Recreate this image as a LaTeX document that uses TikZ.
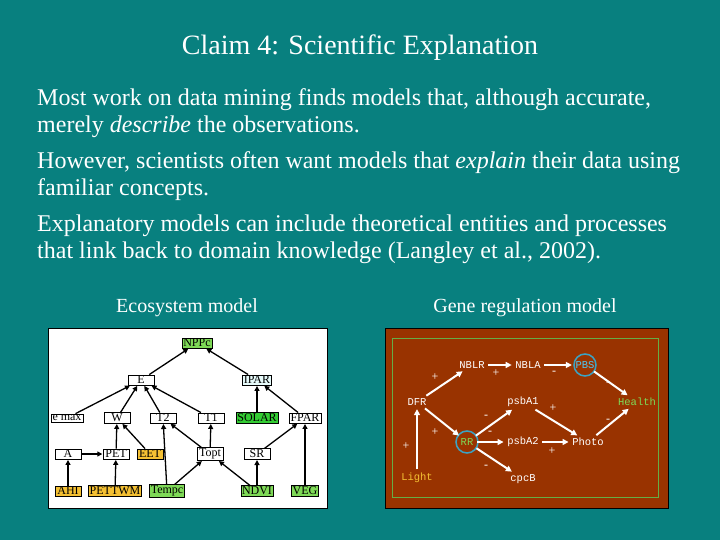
\documentclass[tikz,border=0pt]{standalone}
\usepackage{fontspec}
\setmainfont{Liberation Serif}
\setmonofont{Liberation Mono}
\usetikzlibrary{arrows.meta}
\definecolor{teal1}{HTML}{08807F}
\definecolor{brownbg}{HTML}{993300}
\definecolor{gbox}{HTML}{7ED957}
\definecolor{dgbox}{HTML}{33CC33}
\definecolor{obox}{HTML}{F4C033}
\definecolor{cbox}{HTML}{E6FAFA}
\definecolor{ringc}{HTML}{3BA3C4}
\begin{document}
\begin{tikzpicture}[x=1pt,y=-1pt,
 lb/.style={draw=black,fill=white,font=\fontsize{12}{13}\selectfont,inner sep=1.3pt,minimum width=26pt},
 ra/.style={-{Triangle[length=5pt,width=5pt]},line width=1.3pt,black,shorten >=0.5pt},
 rn/.style={white,font=\ttfamily\fontsize{10.5}{11}\selectfont,inner sep=1.5pt},
 wa/.style={-{Triangle[length=6pt,width=6pt]},line width=2pt,white,shorten >=2pt,shorten <=2pt},
 sg/.style={white,font=\fontsize{12}{12}\selectfont},
 para/.style={white,anchor=north west,align=left,inner sep=0pt,font=\fontsize{24}{27}\selectfont}]
\fill[teal1] (0,0) rectangle (720,540);
\useasboundingbox (0,0) rectangle (720,540);
\node[white,font=\fontsize{28}{30}\selectfont] (title) at (360,48) {Claim 4: Scientific Explanation};
\node[para] (p1) at (37,88) {Most work on data mining finds models that, although accurate,\\merely \emph{describe} the observations.};
\node[para] (p2) at (37,151) {However, scientists often want models that \emph{explain} their data using\\familiar concepts.};
\node[para] (p3) at (37,215) {Explanatory models can include theoretical entities and processes\\that link back to domain knowledge (Langley et al., 2002).};
\node[white,font=\fontsize{20}{22}\selectfont] (c1) at (187,308) {Ecosystem model};
\node[white,font=\fontsize{20}{22}\selectfont] (c2) at (525,308) {Gene regulation model};
% left panel
\draw[black,fill=white] (48,328) rectangle (327,508);
\node[lb,fill=gbox] (NPPc) at (197,343) {NPPc};
\node[lb] (E) at (141,380) {E};
\node[lb,fill=cbox] (IPAR) at (257,380) {IPAR};
\node[lb] (emax) at (67,418) {e max};
\node[lb] (W) at (117,418) {W};
\node[lb] (T2) at (163,418) {T2};
\node[lb] (T1) at (211,418) {T1};
\node[lb,fill=dgbox] (SOLAR) at (257,418) {SOLAR};
\node[lb] (FPAR) at (305,418) {FPAR};
\node[lb] (A) at (68,454) {A};
\node[lb] (PET) at (116,454) {PET};
\node[lb,fill=obox] (EET) at (150,454) {EET};
\node[lb] (Topt) at (210,454) {Topt};
\node[lb] (SR) at (257,454) {SR};
\node[lb,fill=obox] (AHI) at (68,491) {AHI};
\node[lb,fill=obox] (PETTWM) at (115,491) {PETTWM};
\node[lb,fill=gbox] (Tempc) at (167,491) {Tempc};
\node[lb,fill=gbox] (NDVI) at (257,491) {NDVI};
\node[lb,fill=gbox] (VEG) at (305,491) {VEG};
\foreach \a/\b in {emax/E,W/E,T2/E,T1/E,E/NPPc,IPAR/NPPc,SOLAR/IPAR,FPAR/IPAR,A/PET,PET/W,EET/W,AHI/A,PETTWM/PET,Tempc/T2,Tempc/Topt,Topt/T2,Topt/T1,NDVI/Topt,NDVI/SR,SR/FPAR,VEG/FPAR}
  \draw[ra] (\a) -- (\b);
% right panel
\draw[black,fill=brownbg] (385,328) rectangle (668,508);
\draw[gbox!80!black,line width=0.8pt] (392,338) rectangle (658,497);
\node[rn] (NBLR) at (472,365) {NBLR};
\node[rn] (NBLA) at (528,365) {NBLA};
\node[rn,text=cyan!70!white] (PBS) at (585,365) {PBS};
\draw[ringc,line width=1.5pt] (PBS) circle (11pt);
\node[rn] (DFR) at (417,402) {DFR};
\node[rn] (psbA1) at (523,402) {psbA1};
\node[rn,text=gbox] (Health) at (637,402) {Health};
\node[rn,text=gbox] (RR) at (467,442) {RR};
\draw[ringc,line width=1.5pt] (RR) circle (11pt);
\node[rn] (psbA2) at (523,442) {psbA2};
\node[rn] (Photo) at (588,442) {Photo};
\node[rn,text=obox] (Light) at (417,478) {Light};
\node[rn] (cpcB) at (523,479) {cpcB};
\foreach \a/\b in {DFR/NBLR,NBLR/NBLA,NBLA/PBS,PBS/Health,DFR/RR,RR/psbA1,RR/psbA2,RR/cpcB,psbA1/Photo,psbA2/Photo,Photo/Health,Light/DFR}
  \draw[wa] (\a) -- (\b);
\node[sg] (s1) at (435,377) {+};
\node[sg] (s2) at (496,373) {+};
\node[sg] (s3) at (554,373) {-};
\node[sg] (s4) at (608,384) {-};
\node[sg] (s5) at (553,408) {+};
\node[sg] (s6) at (608,421) {-};
\node[sg] (s7) at (435,432) {+};
\node[sg] (s8) at (486,417) {-};
\node[sg] (s9) at (490,433) {-};
\node[sg] (s10) at (552,451) {+};
\node[sg] (s11) at (486,467) {-};
\node[sg] (s12) at (406,446) {+};
\end{tikzpicture}
\end{document}
